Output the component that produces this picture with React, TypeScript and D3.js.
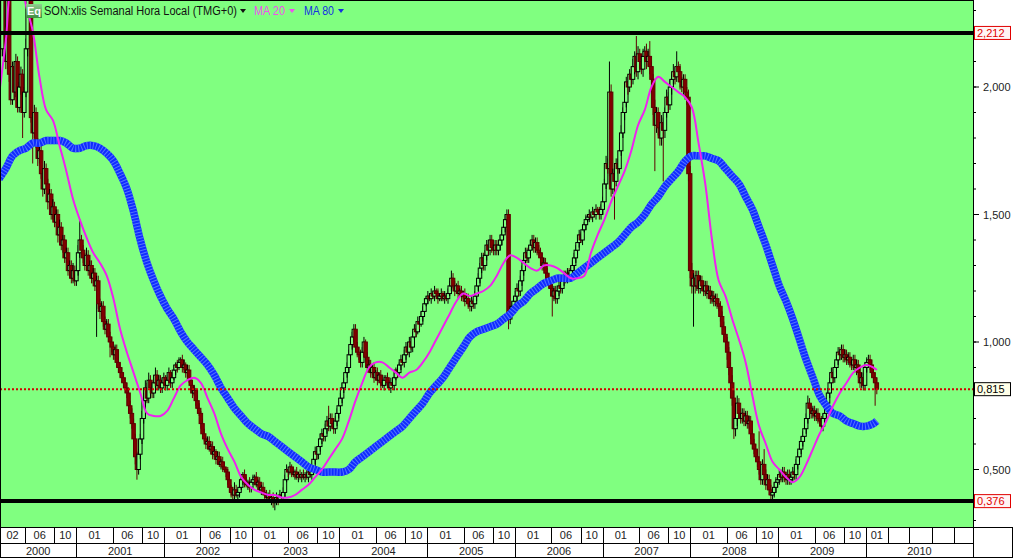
import React from 'react';
import * as d3 from 'd3';

const width = 1015;
const height = 558;
const plotRight = 973;
const plotBottom = 527;

// first weekly candle (Monday) and its open
const firstWeek = new Date(2000, 1, 14);
const firstOpen = 2.4;

// weekly closes, one block per calendar year (roughly)
const close2000 = [
  2.55, 2.15, 2.6, 2.45, 2.1, 2.5, 2.05, 1.95, 2.08, 1.98,
  2.1, 1.92, 2.0, 2.05, 1.9, 1.98, 2.15, 2.45, 2.35, 1.88,
  1.82, 1.9, 1.78, 1.72, 1.75, 1.66, 1.6, 1.68, 1.62, 1.55,
  1.58, 1.5, 1.53, 1.47, 1.5, 1.42, 1.45, 1.38, 1.4, 1.33,
  1.35, 1.28, 1.3, 1.25, 1.28, 1.24,
];
const close2001 = [
  1.28, 1.35, 1.4, 1.36, 1.33, 1.3, 1.34, 1.28, 1.3, 1.25,
  1.27, 1.22, 1.24, 1.15, 1.12, 1.14, 1.08, 1.05, 1.07, 1.02,
  1.0, 0.98, 0.95, 0.97, 0.92, 0.9, 0.88, 0.86, 0.84, 0.82,
  0.8, 0.75, 0.72, 0.68, 0.62, 0.55, 0.5, 0.56, 0.62, 0.7,
  0.77, 0.82, 0.78, 0.85, 0.82, 0.8, 0.84, 0.87, 0.83, 0.85,
  0.82, 0.84,
];
const close2002 = [
  0.86, 0.83, 0.85, 0.88, 0.84, 0.86, 0.89, 0.91, 0.9, 0.92,
  0.93, 0.9, 0.91, 0.88, 0.89, 0.85, 0.83, 0.8, 0.81, 0.77,
  0.74, 0.72, 0.68, 0.64, 0.62, 0.6, 0.61, 0.58, 0.59, 0.56,
  0.57, 0.54, 0.55, 0.52, 0.53, 0.51, 0.5, 0.49, 0.46, 0.43,
  0.41, 0.4, 0.42, 0.4, 0.41, 0.43, 0.46, 0.48, 0.45, 0.44,
  0.45, 0.43,
];
const close2003 = [
  0.45, 0.46, 0.47, 0.44, 0.45, 0.42, 0.43, 0.41, 0.4, 0.39,
  0.4, 0.38, 0.39, 0.37, 0.38, 0.39, 0.38, 0.4, 0.39, 0.41,
  0.46, 0.5, 0.49, 0.51, 0.49, 0.48, 0.49, 0.47, 0.48, 0.47,
  0.48, 0.47, 0.48, 0.47, 0.49, 0.48, 0.5, 0.54, 0.57, 0.56,
  0.59, 0.62, 0.64, 0.63, 0.66, 0.69, 0.67, 0.7, 0.68, 0.66,
  0.69, 0.72,
];
const close2004 = [
  0.75, 0.78, 0.82, 0.84, 0.88, 0.9, 0.95, 0.99, 1.02, 1.05,
  0.98, 0.96, 0.95, 0.92, 0.96, 1.0, 0.94, 0.9, 0.91, 0.88,
  0.9, 0.86, 0.88, 0.85, 0.87, 0.84, 0.83, 0.85, 0.86, 0.84,
  0.82, 0.84, 0.83, 0.86, 0.89, 0.88, 0.91, 0.93, 0.92, 0.95,
  0.98, 0.96, 1.0, 0.98, 1.02, 1.05, 1.04, 1.08, 1.07, 1.1,
  1.12, 1.15,
];
const close2005 = [
  1.17, 1.18, 1.17, 1.19, 1.18, 1.2, 1.19, 1.17, 1.18, 1.19,
  1.17, 1.18, 1.17, 1.19, 1.22, 1.25, 1.22, 1.2, 1.22, 1.19,
  1.2, 1.18, 1.19, 1.16, 1.17, 1.15, 1.14, 1.16, 1.15, 1.18,
  1.22, 1.25, 1.29, 1.33, 1.3, 1.34, 1.38, 1.36, 1.4, 1.37,
  1.36, 1.38, 1.36, 1.38, 1.4, 1.42, 1.45, 1.48, 1.5, 1.09,
  1.12, 1.14,
];
const close2006 = [
  1.16, 1.18, 1.21, 1.2, 1.24, 1.28, 1.32, 1.35, 1.33, 1.36,
  1.38, 1.4, 1.37, 1.39, 1.36, 1.35, 1.33, 1.3, 1.31, 1.27,
  1.25, 1.23, 1.21, 1.18, 1.2, 1.17, 1.2, 1.22, 1.21, 1.24,
  1.26, 1.25, 1.27, 1.26, 1.28, 1.3, 1.33, 1.36, 1.39, 1.42,
  1.4, 1.44, 1.46, 1.48, 1.49, 1.5, 1.49, 1.51, 1.5, 1.52,
  1.51, 1.5,
];
const close2007 = [
  1.52, 1.55, 1.62, 1.7, 1.68, 1.98, 1.6, 1.66, 1.63, 1.7,
  1.68, 1.75, 1.82, 1.9, 1.94, 2.02, 2.0, 2.05, 2.03, 2.08,
  2.12, 2.06, 2.13, 2.1, 2.07, 2.12, 2.14, 2.1, 2.12, 2.08,
  2.03, 1.92, 1.85, 1.9, 1.84, 1.8, 1.86, 1.83, 1.9, 1.96,
  1.93, 2.0, 2.03, 2.06, 2.04, 2.08, 2.06, 2.02, 2.0, 2.03,
  1.98, 1.96,
];
const close2008 = [
  1.66, 1.28, 1.22, 1.25, 1.22, 1.26, 1.21, 1.24, 1.22, 1.2,
  1.22, 1.19, 1.2, 1.17, 1.18, 1.16, 1.17, 1.15, 1.14, 1.1,
  1.06, 1.03, 1.0, 0.96, 0.9, 0.84, 0.78, 0.66, 0.7, 0.76,
  0.72, 0.7, 0.72, 0.69, 0.71, 0.68, 0.69, 0.64, 0.6, 0.58,
  0.55, 0.53, 0.5, 0.46, 0.52, 0.48, 0.44, 0.46, 0.42, 0.4,
  0.41, 0.43,
];
const close2009 = [
  0.45, 0.46, 0.48, 0.47, 0.49, 0.47, 0.46, 0.48, 0.46, 0.47,
  0.49, 0.48, 0.52, 0.55, 0.58, 0.61, 0.63, 0.66, 0.7, 0.76,
  0.74, 0.72, 0.73, 0.71, 0.72, 0.7, 0.69, 0.67, 0.7, 0.72,
  0.76, 0.8, 0.84, 0.88, 0.86, 0.9, 0.93, 0.96, 0.95, 0.97,
  0.94, 0.95, 0.93, 0.94, 0.92, 0.91, 0.93, 0.9, 0.91, 0.88,
  0.84, 0.86,
];
const close2010 = [0.83, 0.9, 0.92, 0.93, 0.91, 0.88, 0.86, 0.84, 0.815];

// wick lengths beyond the body, in hundredths
const wickUp = [
  3, 3, 3, 3, 3, 3, 2, 3, 2, 2, 3, 2, 2, 3, 2, 2, 4, 5, 3, 2, 2, 3, 2, 2, 3, 2, 2, 3, 2, 2, 2, 2, 3, 2, 2, 2, 3, 2, 2, 2, 2, 2, 2, 2, 3, 2,
  2, 3, 8, 2, 2, 2, 3, 2, 2, 2, 2, 2, 2, 2, 2, 2, 2, 2, 2, 2, 2, 2, 2, 2, 2, 2, 2, 2, 2, 2, 2, 2, 2, 2, 2, 2, 2, 2, 2, 3, 3, 3, 2, 3, 2, 2, 3, 3, 2, 2, 2, 2,
  2, 1, 2, 2, 1, 2, 2, 1, 2, 2, 1, 2, 2, 1, 2, 2, 1, 2, 2, 1, 2, 2, 1, 2, 2, 1, 2, 2, 1, 2, 2, 1, 2, 2, 1, 2, 2, 1, 2, 2, 1, 2, 3, 2, 1, 2, 2, 1, 2, 2, 1, 2,
  1, 2, 1, 2, 1, 2, 1, 2, 1, 2, 1, 2, 1, 2, 1, 2, 1, 2, 1, 2, 2, 2, 1, 2, 1, 2, 1, 2, 1, 2, 1, 2, 1, 2, 1, 2, 1, 2, 2, 2, 2, 2, 2, 2, 2, 2, 6, 2, 2, 2, 2, 2,
  2, 2, 2, 2, 2, 2, 2, 2, 2, 2, 2, 2, 2, 2, 2, 2, 1, 2, 2, 2, 1, 2, 1, 2, 1, 2, 1, 2, 1, 2, 1, 2, 1, 2, 1, 2, 1, 2, 1, 2, 2, 2, 2, 2, 2, 2, 2, 2, 2, 2, 2, 2,
  1, 2, 1, 2, 1, 2, 1, 2, 1, 2, 1, 2, 1, 2, 2, 3, 2, 2, 1, 2, 1, 2, 1, 2, 1, 2, 1, 2, 1, 2, 2, 2, 2, 2, 2, 2, 2, 2, 2, 2, 2, 2, 2, 2, 2, 2, 2, 2, 2, 2, 2, 2,
  2, 2, 2, 2, 2, 2, 2, 2, 2, 2, 2, 2, 2, 2, 2, 2, 2, 2, 2, 2, 2, 2, 2, 2, 2, 2, 2, 2, 2, 2, 2, 2, 2, 2, 2, 2, 2, 2, 2, 2, 1, 2, 1, 2, 1, 2, 1, 2, 1, 2, 1, 2,
  2, 2, 2, 3, 2, 12, 3, 2, 2, 2, 2, 2, 3, 2, 3, 2, 3, 2, 3, 3, 2, 8, 3, 2, 3, 3, 2, 3, 3, 6, 2, 2, 3, 2, 2, 2, 3, 2, 2, 3, 2, 3, 2, 3, 2, 6, 2, 3, 2, 2, 2, 2,
  3, 3, 3, 2, 3, 2, 2, 2, 2, 2, 2, 2, 2, 2, 2, 2, 2, 2, 2, 2, 2, 2, 2, 2, 2, 2, 3, 3, 3, 3, 2, 2, 2, 2, 2, 2, 2, 2, 2, 2, 2, 2, 12, 2, 2, 6, 2, 2, 2, 2, 2, 2,
  2, 2, 2, 2, 2, 2, 2, 2, 2, 2, 2, 2, 2, 2, 2, 2, 2, 2, 2, 3, 2, 2, 2, 2, 2, 2, 2, 2, 2, 2, 2, 2, 2, 2, 2, 2, 2, 2, 2, 2, 2, 2, 2, 2, 2, 2, 2, 2, 2, 2, 2, 2,
  2, 2, 2, 2, 2, 2, 2, 2, 2,
];
const wickDn = [
  3, 3, 3, 3, 3, 3, 3, 2, 2, 3, 2, 2, 2, 3, 10, 2, 2, 3, 3, 2, 12, 2, 2, 3, 2, 2, 3, 2, 2, 3, 2, 2, 2, 2, 2, 3, 2, 2, 3, 2, 2, 2, 3, 2, 2, 2,
  2, 2, 2, 2, 2, 2, 2, 2, 2, 2, 2, 2, 20, 2, 3, 2, 2, 2, 2, 2, 6, 2, 2, 2, 2, 2, 2, 2, 2, 2, 2, 2, 2, 2, 3, 3, 4, 2, 2, 2, 2, 2, 2, 2, 2, 2, 2, 2, 2, 2, 2, 2,
  1, 2, 2, 1, 2, 2, 1, 2, 2, 1, 2, 2, 1, 2, 2, 1, 2, 2, 1, 2, 2, 1, 2, 2, 1, 2, 2, 1, 2, 2, 1, 2, 2, 1, 2, 2, 1, 2, 2, 2, 2, 2, 2, 1, 2, 2, 1, 2, 2, 1, 2, 2,
  2, 1, 2, 1, 2, 1, 2, 1, 2, 1, 2, 1, 2, 2, 3, 2, 2, 1, 2, 1, 2, 1, 2, 1, 2, 1, 2, 1, 2, 1, 2, 1, 2, 1, 2, 1, 2, 1, 2, 2, 2, 2, 2, 2, 2, 2, 2, 2, 2, 2, 2, 2,
  2, 2, 2, 2, 2, 2, 2, 2, 2, 2, 2, 2, 2, 2, 2, 2, 2, 2, 2, 2, 1, 2, 1, 2, 1, 2, 1, 2, 2, 2, 1, 2, 1, 2, 1, 2, 1, 2, 1, 2, 2, 1, 2, 1, 2, 1, 2, 1, 2, 1, 2, 1,
  1, 2, 1, 2, 1, 2, 1, 2, 1, 2, 1, 2, 1, 2, 1, 2, 1, 2, 1, 2, 1, 2, 1, 2, 1, 2, 2, 2, 2, 2, 2, 2, 2, 2, 2, 2, 2, 2, 2, 2, 2, 2, 2, 2, 2, 2, 2, 2, 2, 4, 2, 2,
  2, 2, 2, 2, 2, 2, 2, 2, 2, 2, 2, 2, 2, 2, 2, 2, 2, 2, 2, 2, 2, 2, 2, 8, 2, 2, 2, 2, 2, 2, 2, 2, 2, 2, 2, 2, 2, 2, 2, 2, 1, 2, 1, 2, 1, 2, 1, 2, 1, 2, 1, 2,
  2, 2, 2, 2, 2, 3, 3, 2, 15, 2, 2, 2, 2, 2, 3, 2, 3, 2, 3, 2, 3, 2, 3, 3, 2, 3, 2, 3, 2, 3, 3, 3, 18, 3, 3, 3, 3, 20, 3, 2, 3, 2, 3, 2, 3, 2, 2, 3, 2, 3, 3, 3,
  3, 3, 3, 16, 3, 2, 2, 2, 2, 2, 2, 2, 2, 2, 2, 2, 2, 2, 2, 2, 3, 3, 3, 3, 3, 3, 3, 4, 3, 3, 2, 2, 2, 2, 2, 2, 2, 2, 2, 2, 2, 2, 2, 2, 2, 2, 2, 2, 2, 2, 2, 2,
  2, 2, 2, 2, 2, 2, 2, 2, 2, 2, 2, 2, 2, 2, 2, 2, 2, 2, 2, 2, 2, 2, 2, 2, 2, 2, 2, 2, 2, 2, 2, 2, 2, 2, 2, 2, 2, 2, 2, 2, 2, 2, 2, 2, 2, 2, 2, 2, 3, 2, 2, 2,
  2, 2, 2, 2, 2, 2, 2, 9, 2,
];

// moving averages read every 4 weeks (last point at the final week)
const ma20 = [
  1.97, 2.18, 2.42, 2.44, 2.32, 2.22, 2.04, 1.91, 1.87, 1.77,
  1.67, 1.56, 1.48, 1.41, 1.35, 1.31, 1.26, 1.17, 1.05, 0.96,
  0.88, 0.8, 0.72, 0.71, 0.71, 0.73, 0.78, 0.83, 0.85, 0.86,
  0.84, 0.78, 0.72, 0.64, 0.58, 0.53, 0.47, 0.44, 0.42, 0.41,
  0.4, 0.4, 0.39, 0.39, 0.4, 0.42, 0.44, 0.47, 0.5, 0.54,
  0.58, 0.62, 0.69, 0.77, 0.84, 0.9, 0.92, 0.92, 0.9, 0.88,
  0.86, 0.88, 0.89, 0.92, 0.96, 1.01, 1.06, 1.11, 1.16, 1.19,
  1.18, 1.19, 1.2, 1.22, 1.26, 1.31, 1.34, 1.33, 1.31, 1.29,
  1.28, 1.3, 1.3, 1.29, 1.27, 1.25, 1.25, 1.26, 1.35, 1.42,
  1.48, 1.55, 1.61, 1.67, 1.75, 1.85, 1.91, 2.0, 2.04, 2.02,
  2.0, 1.98, 1.96, 1.92, 1.78, 1.62, 1.4, 1.24, 1.18, 1.09,
  1.01, 0.92, 0.79, 0.67, 0.6, 0.53, 0.5, 0.47, 0.45, 0.47,
  0.52, 0.58, 0.64, 0.69, 0.75, 0.8, 0.84, 0.88, 0.9, 0.91,
  0.9, 0.89,
];
const ma80 = [
  1.64, 1.68, 1.73, 1.75, 1.76, 1.78, 1.78, 1.79, 1.79, 1.79,
  1.78, 1.76, 1.76, 1.77, 1.77, 1.76, 1.74, 1.71, 1.66, 1.6,
  1.51, 1.4, 1.31, 1.24, 1.18, 1.13, 1.09, 1.04, 1.0, 0.97,
  0.94, 0.91, 0.87, 0.82, 0.78, 0.74, 0.71, 0.68, 0.66, 0.64,
  0.63, 0.61, 0.59, 0.57, 0.55, 0.53, 0.51, 0.5, 0.49, 0.49,
  0.49, 0.49, 0.5, 0.53, 0.55, 0.57, 0.59, 0.61, 0.63, 0.65,
  0.67, 0.7, 0.73, 0.76, 0.8, 0.83, 0.86, 0.9, 0.94, 0.98,
  1.02, 1.04, 1.05, 1.06, 1.07, 1.09, 1.11, 1.14, 1.16, 1.19,
  1.21, 1.23, 1.24, 1.25, 1.25, 1.25, 1.27, 1.29, 1.31, 1.33,
  1.35, 1.37, 1.39, 1.42, 1.45, 1.47, 1.5, 1.54, 1.57, 1.61,
  1.64, 1.67, 1.71, 1.73, 1.73, 1.73, 1.72, 1.71, 1.68, 1.65,
  1.62, 1.57, 1.52, 1.45, 1.38, 1.3, 1.22, 1.16, 1.09, 1.01,
  0.93, 0.86, 0.79, 0.75, 0.72, 0.71, 0.69, 0.68, 0.67, 0.67,
  0.68, 0.69,
];
const maWeeks = d3.range(0, 521, 4).concat([522]);

const highLine = 2.212;
const lowLine = 0.376;
const lastPrice = 0.815;

const priceTicks = [0.5, 1.0, 1.5, 2.0];
const yearLabels = ['2000', '2001', '2002', '2003', '2004', '2005', '2006', '2007', '2008', '2009', '2010'];

const font = 'Liberation Sans, Arial, sans-serif';
const green = '#80ff80';

const fmt = (v: number) => v.toFixed(3).replace('.', ',');

export default function App() {
  const x = d3
    .scaleTime()
    .domain([new Date(2000, 0, 1), new Date(2010, 0, 1)])
    .range([-11.5, 866]);
  const y = d3.scaleLinear().domain([1, 2]).range([342, 87]);

  const closes = [
    ...close2000, ...close2001, ...close2002, ...close2003, ...close2004, ...close2005,
    ...close2006, ...close2007, ...close2008, ...close2009, ...close2010,
  ];

  const candles = closes.map((c, i) => {
    const o = i === 0 ? firstOpen : closes[i - 1];
    const h = Math.max(o, c) + wickUp[i] / 100;
    const l = Math.min(o, c) - wickDn[i] / 100;
    return { date: d3.timeWeek.offset(firstWeek, i), o, c, h, l };
  });

  const maPoints = (vals: number[]) =>
    vals.map((v, k) => ({ date: d3.timeWeek.offset(firstWeek, maWeeks[k]), v }));

  const line = d3
    .line<{ date: Date; v: number }>()
    .x((d) => x(d.date))
    .y((d) => y(d.v))
    .curve(d3.curveCatmullRom.alpha(0.5));

  // month cells along the bottom axis
  const monthTicks: { date: Date; label: string }[] = [];
  yearLabels.forEach((yl) => {
    const yr = +yl;
    if (yr === 2000) {
      monthTicks.push({ date: new Date(yr, 1, 1), label: '02' });
    } else {
      monthTicks.push({ date: new Date(yr, 0, 1), label: '01' });
    }
    if (yr < 2010) {
      monthTicks.push({ date: new Date(yr, 5, 1), label: '06' });
      monthTicks.push({ date: new Date(yr, 9, 1), label: '10' });
    } else {
      monthTicks.push({ date: new Date(yr, 3, 1), label: '' });
      monthTicks.push({ date: new Date(yr, 6, 1), label: '' });
      monthTicks.push({ date: new Date(yr, 9, 1), label: '' });
      monthTicks.push({ date: new Date(yr + 1, 0, 1), label: '' });
    }
  });
  const monthEdges = monthTicks.map((t) => x(t.date)).concat([plotRight]);

  const yearEdges = yearLabels.map((yl) => x(new Date(+yl, 0, 1))).concat([plotRight]);

  const minorTicks = d3.range(0.3, 2.35, 0.1).map((v) => +v.toFixed(2));

  const bodyW = 3.5;

  return (
    <svg
      width={width}
      height={height}
      style={{ position: 'absolute', left: 0, top: 0, background: '#fff' }}
      fontFamily={font}
    >
      <defs>
        <clipPath id="plot">
          <rect x={0} y={0} width={plotRight} height={plotBottom} />
        </clipPath>
        <linearGradient id="eq" x1="0" y1="0" x2="0" y2="1">
          <stop offset="0" stopColor="#8fd08f" />
          <stop offset="1" stopColor="#3f8f3f" />
        </linearGradient>
      </defs>

      <rect x={0} y={0} width={plotRight} height={plotBottom} fill={green} />

      <g clipPath="url(#plot)">
        {candles.map((d, i) => {
          const cx = x(d.date);
          const up = d.c >= d.o;
          const col = up ? '#000' : '#5e0000';
          const top = y(Math.max(d.o, d.c));
          const bot = y(Math.min(d.o, d.c));
          return (
            <g key={i}>
              <line x1={cx} x2={cx} y1={y(d.h)} y2={y(d.l)} stroke={col} strokeWidth={1} />
              <rect
                x={cx - bodyW / 2}
                y={top}
                width={bodyW}
                height={Math.max(1, bot - top)}
                fill={up ? green : '#800000'}
                stroke={col}
                strokeWidth={1}
              />
            </g>
          );
        })}

        <path d={line(maPoints(ma80)) || ''} fill="none" stroke="#0f2cff" strokeWidth={7.5} />
        <path
          d={line(maPoints(ma80)) || ''}
          fill="none"
          stroke="#5473ff"
          strokeWidth={7.5}
          strokeDasharray="1 2"
        />
        <path d={line(maPoints(ma20)) || ''} fill="none" stroke="#f020f0" strokeWidth={2} />

        <line x1={0} x2={plotRight} y1={y(highLine)} y2={y(highLine)} stroke="#000" strokeWidth={4} />
        <line x1={0} x2={plotRight} y1={y(lowLine)} y2={y(lowLine)} stroke="#000" strokeWidth={4} />
        <line
          x1={0}
          x2={plotRight}
          y1={y(lastPrice)}
          y2={y(lastPrice)}
          stroke="#d40000"
          strokeWidth={2}
          strokeDasharray="2 2"
        />
      </g>

      {/* legend */}
      <g>
        <rect x={26} y={4} width={16} height={14} fill="url(#eq)" />
        <text x={34} y={15} fontSize={11} fontWeight="bold" fill="#fff" textAnchor="middle">
          Eq
        </text>
        <text x={44} y={15} fontSize={12} fill="#111" textLength={193} lengthAdjust="spacingAndGlyphs">
          SON:xlis Semanal Hora Local (TMG+0)
        </text>
        <path d="M240,9 L246,9 L243,13 Z" fill="#111" />
        <text x={254} y={15} fontSize={12} fill="#f050f0" textLength={31} lengthAdjust="spacingAndGlyphs">
          MA 20
        </text>
        <path d="M289,9 L295,9 L292,13 Z" fill="#f050f0" />
        <text x={304} y={15} fontSize={12} fill="#1430e0" textLength={30} lengthAdjust="spacingAndGlyphs">
          MA 80
        </text>
        <path d="M338,9 L344,9 L341,13 Z" fill="#1430e0" />
      </g>

      {/* frame */}
      <rect x={0.5} y={0.5} width={plotRight} height={plotBottom} fill="none" stroke="#000" />

      {/* right axis */}
      {minorTicks.map((v) => (
        <line key={v} x1={plotRight} x2={plotRight + 3} y1={y(v)} y2={y(v)} stroke="#000" />
      ))}
      {priceTicks.map((v) => (
        <g key={v}>
          <line x1={plotRight} x2={plotRight + 6} y1={y(v)} y2={y(v)} stroke="#000" />
          <text x={983} y={y(v) + 4} fontSize={11} fill="#222">
            {fmt(v)}
          </text>
        </g>
      ))}
      {[
        { v: highLine, c: '#e00000', bg: '#fff4f4' },
        { v: lastPrice, c: '#000', bg: '#ffffe8' },
        { v: lowLine, c: '#e00000', bg: '#fff4f4' },
      ].map((b) => (
        <g key={b.v}>
          <rect x={974.5} y={y(b.v) - 6.5} width={36} height={13} fill={b.bg} stroke={b.c} />
          <text x={977} y={y(b.v) + 4} fontSize={11} fill={b.c}>
            {fmt(b.v)}
          </text>
        </g>
      ))}

      {/* bottom axis */}
      <line x1={0} x2={1013} y1={527.5} y2={527.5} stroke="#000" />
      <line x1={0} x2={plotRight} y1={543.5} y2={543.5} stroke="#000" />
      <line x1={0} x2={1013} y1={557.5} y2={557.5} stroke="#000" />
      <line x1={0.5} x2={0.5} y1={527} y2={558} stroke="#000" />
      <line x1={plotRight + 0.5} x2={plotRight + 0.5} y1={0} y2={558} stroke="#000" />
      <line x1={1012.5} x2={1012.5} y1={527} y2={558} stroke="#000" />
      {monthTicks.map((t, i) => {
        const x0 = monthEdges[i];
        const x1 = monthEdges[i + 1];
        const cx = (Math.max(0, x0) + Math.min(plotRight, x1)) / 2;
        return (
          <g key={i}>
            {x0 > 0 && (
              <line x1={Math.round(x0) + 0.5} x2={Math.round(x0) + 0.5} y1={527} y2={543} stroke="#000" />
            )}
            <text x={cx} y={539} fontSize={11} fill="#222" textAnchor="middle">
              {t.label}
            </text>
          </g>
        );
      })}
      {yearLabels.map((yl, i) => {
        const x0 = yearEdges[i];
        const x1 = yearEdges[i + 1];
        const cx = (Math.max(0, x0) + Math.min(plotRight, x1)) / 2;
        return (
          <g key={yl}>
            {x0 > 0 && (
              <line x1={Math.round(x0) + 0.5} x2={Math.round(x0) + 0.5} y1={543} y2={558} stroke="#000" />
            )}
            <text x={cx} y={555} fontSize={11} fill="#222" textAnchor="middle">
              {yl}
            </text>
          </g>
        );
      })}
    </svg>
  );
}
